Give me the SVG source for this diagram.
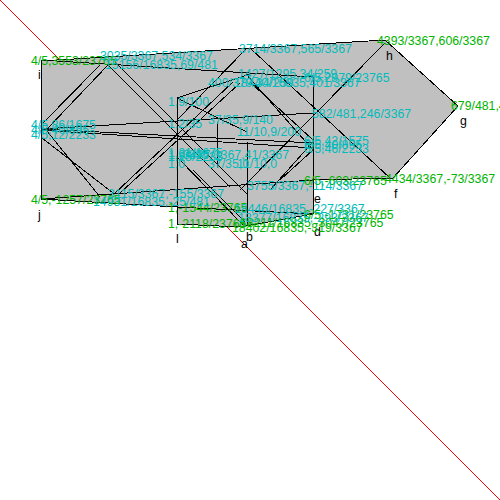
<svg xmlns="http://www.w3.org/2000/svg" width="500" height="500" viewBox="0 0 500 500">
<style>
text{font-family:"Liberation Sans",Arial,sans-serif;font-size:12.3px}
.c{fill:#00bcbc}.g{fill:#00b400}.n{fill:#000}
.e{stroke:#000;stroke-width:1;fill:none;shape-rendering:crispEdges}
</style>
<rect width="500" height="500" fill="#fff"/>
<line x1="0" y1="0" x2="500" y2="500" stroke="#f00" stroke-width="1" shape-rendering="crispEdges"/>
<polygon id="face" points="41,61 385,40 458,106 393,178 313,180 313,214 240,227 177,224 177,207 41,199" fill="#c0c0c0"/>
<g id="connectors" class="e">
<path d="M41,61L385,40L458,106L393,178L313,180V214L240,227L177,224V207L41,199Z"/>
<path d="M41,60L313,77M41,199L313,180M41,129L313,113M41,130L313,148M41,129L313,143"/>
<path d="M177,98V224M217,122V168M247,142V226M313,77V214M177,207L313,214"/>
<path d="M43,123L100,65M47,129L108,65M115,62L247,194M108,65L230,187M42,138L113,193M47,131L100,197"/>
<path d="M113,195L233,82M120,193L240,83M247,48L177,120M250,48L390,178M385,43L240,190"/>
<path d="M250,82L313,140M246,74L313,150M312,143L270,190M313,150L280,180"/>
<path d="M177,98L250,74M177,98L247,132M178,158L243,225M193,170L245,222"/>
</g>
<g id="node-i"><text class="g" x="31" y="65">4/5,3553/23765</text><text class="n" x="38" y="79">i</text></g>
<g id="node-j"><text class="g" x="31" y="204">4/5,-1257/23765</text><text class="n" x="38" y="219">j</text></g>
<g id="node-h"><text class="g" x="377" y="45">4393/3367,606/3367</text><text class="n" x="386" y="60">h</text></g>
<g id="node-g"><text class="g" x="451" y="110">679/481,40/481</text><text class="n" x="460" y="125">g</text></g>
<g id="node-f"><text class="g" x="385" y="183">4434/3367,-73/3367</text><text class="n" x="394" y="198">f</text></g>
<g id="node-e"><text class="g" x="304" y="185">6/5,-603/23765</text><text class="n" x="314" y="203">e</text></g>
<g id="node-d"><text class="g" x="304" y="219">6/5,-1731/23765</text><text class="n" x="314" y="236">d</text></g>
<g id="node-a"><text class="g" x="232" y="232">18402/16835,-319/3367</text><text class="n" x="241" y="248">a</text></g>
<g id="node-b"><text class="g" x="240" y="227">18211/16835,-3047/23765</text><text class="n" x="246" y="241">b</text></g>
<g id="node-k"><text class="g" x="168" y="212">1,-1544/23765</text></g>
<g id="node-l"><text class="g" x="168" y="228">1,-2118/23765</text><text class="n" x="176" y="243">l</text></g>
<g id="intersections">
<text class="c" x="100" y="60">3035/3367,534/3367</text>
<text class="c" x="105" y="69">15156/16835,69/481</text>
<text class="c" x="239" y="53">3714/3367,565/3367</text>
<text class="c" x="238" y="78">1427/1295,34/259</text>
<text class="c" x="208" y="87">400/379,34/259</text>
<text class="c" x="234" y="87">18440/16835,401/3367</text>
<text class="c" x="304" y="82">6/5,2979/23765</text>
<text class="c" x="168" y="106">1,9/100</text>
<text class="c" x="312" y="118">582/481,246/3367</text>
<text class="c" x="168" y="128">1,2/35</text>
<text class="c" x="208" y="124">37/35,9/140</text>
<text class="c" x="237" y="136">11/10,9/200</text>
<text class="c" x="31" y="129">4/5,86/1675</text>
<text class="c" x="31" y="134">4/5,40/895</text>
<text class="c" x="31" y="139">4/5,12/2233</text>
<text class="c" x="304" y="145">6/5,42/1575</text>
<text class="c" x="304" y="149">6/5,40/895</text>
<text class="c" x="304" y="153">6/5,46/2233</text>
<text class="c" x="168" y="157">1,21/1675</text>
<text class="c" x="168" y="159">1,9/895</text>
<text class="c" x="168" y="161">1,25/2233</text>
<text class="c" x="183" y="159">3437/3367,41/3367</text>
<text class="c" x="168" y="168">1,0</text>
<text class="c" x="208" y="168">37/35,0</text>
<text class="c" x="237" y="168">11/10,0</text>
<text class="c" x="247" y="190">3755/3367,-114/3367</text>
<text class="c" x="108" y="198">3115/3367,-155/3367</text>
<text class="c" x="93" y="206">14931/16835,-25/481</text>
<text class="c" x="234" y="213">18446/16835,-227/3367</text>
<text class="c" x="238" y="222">18377/16835,-293/3367</text>
</g>
</svg>
